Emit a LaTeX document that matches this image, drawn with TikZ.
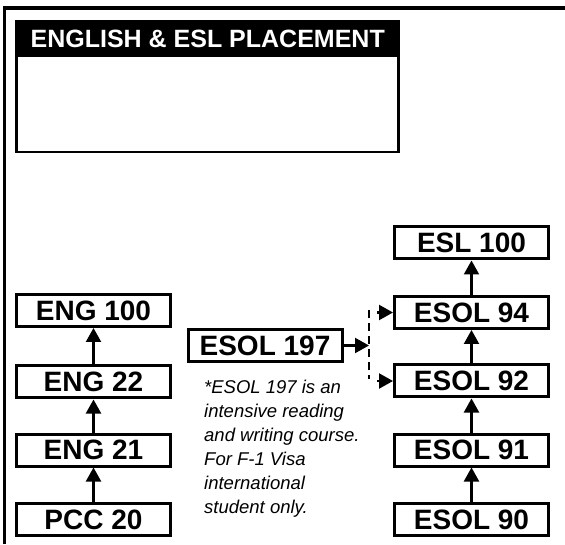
\documentclass[tikz,border=0pt]{standalone}
\usepackage{fontspec}
\setmainfont{Liberation Sans}
\usetikzlibrary{arrows.meta}
\tikzset{
  course/.style={draw, line width=3pt, minimum width=154pt, minimum height=32pt, inner sep=0pt,
    font=\fontsize{28}{30}\selectfont\bfseries},
  uparr/.style={line width=2.2pt, -{Triangle[width=15pt,length=14pt]}},
  dashline/.style={line width=2.2pt, dash pattern=on 8pt off 5pt},
  frameline/.style={line width=3.5pt},
}
\begin{document}
\begin{tikzpicture}[x=1pt,y=1pt]
\useasboundingbox (0,0) rectangle (565,544);
% outer frame (only top and left visible)
\coordinate (fbl) at (4.7,0);
\coordinate (ftl) at (4.7,536);
\coordinate (ftr) at (565,536);
\draw[frameline] (fbl) -- (ftl) -- (ftr);
% title block
\node[fill=black, minimum width=385pt, minimum height=37pt, inner sep=0pt, anchor=north west,
  text=white, font=\fontsize{25}{27}\selectfont\bfseries] (title) at (15,524) {ENGLISH \& ESL PLACEMENT};
\draw[line width=2.8pt] (title.south west) ++(1.4,0) coordinate (tbl0) -- ++(0,-94.6) coordinate (tbl1) -- ++(382.2,0) coordinate (tbl2) -- ++(0,94.6);
% left column
\node[course] (eng100) at (93.5,233.5) {ENG 100};
\node[course] (eng22) at (93.5,162) {ENG 22};
\node[course] (eng21) at (93.5,94) {ENG 21};
\node[course] (pcc20) at (93.5,24.5) {PCC 20};
% right column
\node[course] (esl100) at (471.5,301) {ESL 100};
\node[course] (esol94) at (471.5,231.5) {ESOL 94};
\node[course] (esol92) at (471.5,163) {ESOL 92};
\node[course] (esol91) at (471.5,94) {ESOL 91};
\node[course] (esol90) at (471.5,24.5) {ESOL 90};
% middle
\node[course] (esol197) at (265,198.5) {ESOL 197};
\node[anchor=north west, align=left, inner sep=0pt,
  font=\fontsize{18.5}{24}\selectfont\itshape] (note) at (204,164)
  {*ESOL 197 is an\\intensive reading\\and writing course.\\For F-1 Visa\\international\\student only.};
% arrows
\draw[uparr] (pcc20) -- (eng21);
\draw[uparr] (eng21) -- (eng22);
\draw[uparr] (eng22) -- (eng100);
\draw[uparr] (esol90) -- (esol91);
\draw[uparr] (esol91) -- (esol92);
\draw[uparr] (esol92) -- (esol94);
\draw[uparr] (esol94) -- (esl100);
% dashed split
\coordinate (j1) at (369,234);
\coordinate (j2) at (369,165);
\coordinate (jm) at (369,198.5);
\draw[dashline] (j1) -- (j2);
\draw[uparr] (esol197.east) -- (jm);
\draw[uparr, shorten <=8pt] (j1 |- esol94.west) -- (esol94.west);
\draw[uparr, shorten <=8pt] (j1 |- esol92.west) -- (esol92.west);
\end{tikzpicture}
\end{document}
